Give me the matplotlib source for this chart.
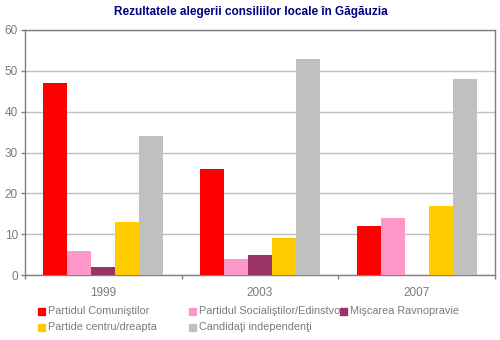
import numpy as np
import matplotlib.pyplot as plt
from matplotlib.patches import Rectangle

years = ['1999', '2003', '2007']
parties = ['Partidul Comuniştilor', 'Partidul Socialiştilor/Edinstvo',
           'Mişcarea Ravnopravie', 'Partide centru/dreapta',
           'Candidaţi independenţi']
comunisti = [47, 26, 12]
socialisti = [6, 4, 14]
ravnopravie = [2, 5, 0]
centru_dreapta = [13, 9, 17]
independenti = [34, 53, 48]
colors = ['#ff0000', '#ff99cc', '#993366', '#ffcc00', '#c0c0c0']

series = [comunisti, socialisti, ravnopravie, centru_dreapta, independenti]

W, H = 500, 340
txt = '#7a7a7a'
plt.rcParams['font.family'] = ['Liberation Sans', 'DejaVu Sans']
fig = plt.figure(figsize=(W / 100, H / 100), dpi=100)
ax = fig.add_axes([25 / W, 1 - 275 / H, 470 / W, 245 / H])

x = np.arange(len(years))
w = 0.153
for i, (vals, c) in enumerate(zip(series, colors)):
    ax.bar(x + (i - 2) * w, vals, w, color=c, zorder=3)

ax.set_xlim(-0.5, 2.5)
ax.set_ylim(0, 60)
ax.set_yticks(range(0, 61, 10))
ax.yaxis.grid(True, color='#c0c0c0', lw=1)
ax.set_axisbelow(True)

ax.set_xticks(x)
ax.set_xticklabels(years)
ax.set_xticks([-0.5, 0.5, 1.5, 2.5], minor=True)
ax.tick_params(axis='x', which='major', length=0, pad=9, labelsize=8.5, labelcolor=txt)
ax.tick_params(axis='x', which='minor', length=3, color='#808080', width=1)
ax.tick_params(axis='y', length=3, color='#808080', width=1, labelsize=8.5,
               labelcolor=txt, pad=2)
for s in ax.spines.values():
    s.set_color('#808080')
    s.set_linewidth(1)

fig.text(251 / W, 1 - 12 / H, 'Rezultatele alegerii consiliilor locale în Găgăuzia',
         fontsize=8.5, fontweight='bold', color='#000080', ha='center', va='center')

# legend laid out row by row in three columns
col_x = [38, 189, 340]
row_y = [311.5, 327.5]
for k, (name, c) in enumerate(zip(parties, colors)):
    px, py = col_x[k % 3], row_y[k // 3]
    fig.patches.append(Rectangle((px / W, 1 - (py + 3.5) / H), 7 / W, 7 / H,
                                 transform=fig.transFigure, color=c))
    fig.text((px + 10) / W, 1 - py / H, name, fontsize=7.8, color=txt,
             ha='left', va='center')

fig.savefig('out.png')
